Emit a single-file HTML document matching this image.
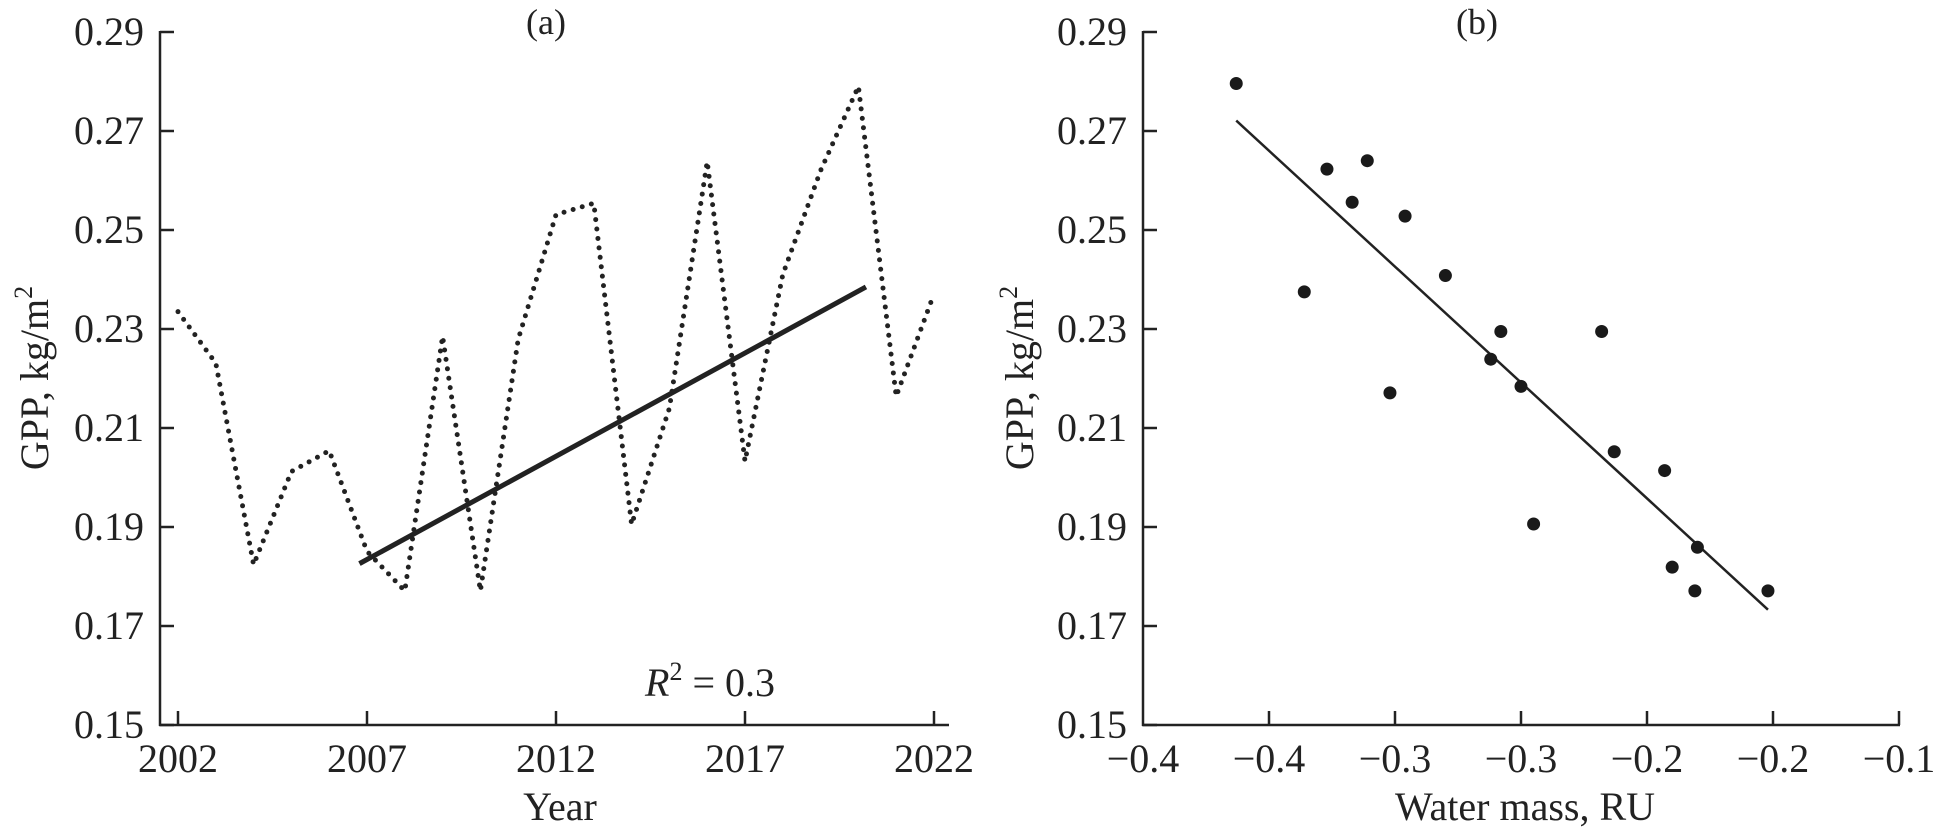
<!DOCTYPE html>
<html><head><meta charset="utf-8"><style>
body{margin:0;background:#fff;}
svg{display:block;font-family:"Liberation Serif",serif;}
</style></head><body>
<svg id="chart" width="1941" height="831" viewBox="0 0 1941 831" xmlns="http://www.w3.org/2000/svg">
<g id="pa"></g>
<g id="pb"></g>
</svg>
<script>
const years=[2002,2003,2004,2005,2006,2007,2008,2009,2010,2011,2012,2013,2014,2015,2016,2017,2018,2019,2020,2021,2022];
const gppSeries=[0.2335,0.2231,0.1824,0.2012,0.2054,0.1851,0.1771,0.2285,0.1771,0.2279,0.2531,0.2554,0.1905,0.214,0.2638,0.2033,0.241,0.262,0.279,0.2164,0.2371];
const trendYears=[2006.8,2020.2];
const trendValues=[0.1826,0.2385];
const yTicks=[0.15,0.17,0.19,0.21,0.23,0.25,0.27,0.29];
const yTickLabels=["0.15","0.17","0.19","0.21","0.23","0.25","0.27","0.29"];
const xTicksA=[2002,2007,2012,2017,2022];
const waterMass=[-0.413,-0.386,-0.377,-0.367,-0.361,-0.346,-0.352,-0.330,-0.308,-0.312,-0.300,-0.295,-0.268,-0.263,-0.243,-0.240,-0.230,-0.231,-0.202];
const gppScatter=[0.2796,0.2375,0.2623,0.2556,0.2640,0.2528,0.2171,0.2408,0.2295,0.2239,0.2184,0.1906,0.2295,0.2052,0.2014,0.1819,0.1859,0.1771,0.1771];
const regX=[-0.413,-0.202];
const regY=[0.2721,0.1733];
const xTicksB=[-0.45,-0.40,-0.35,-0.30,-0.25,-0.20,-0.15];
const xTickLabelsB=["\u22120.4","\u22120.4","\u22120.3","\u22120.3","\u22120.2","\u22120.2","\u22120.1"];

const NS="http://www.w3.org/2000/svg";
function mk(parent,tag,attrs,text){const e=document.createElementNS(NS,tag);for(const k in attrs)e.setAttribute(k,attrs[k]);if(text!==undefined)e.textContent=text;parent.appendChild(e);return e;}
const yScale=v=>725-(v-0.15)*4950;
const xA=y=>178+(y-2002)*37.8;
const xB=v=>1143+(v+0.45)*2520;

function yAxis(g,x0,xEnd){
  let e=mk(g,'line',{x1:x0,y1:31,x2:x0,y2:726,stroke:'#222','stroke-width':2.5});
  
  
  e=mk(g,'line',{x1:x0-1,y1:725,x2:xEnd,y2:725,stroke:'#222','stroke-width':2.5});
  
  
  yTicks.forEach((v,i)=>{
    const t=mk(g,'line',{x1:x0,y1:yScale(v),x2:x0+14,y2:yScale(v),stroke:'#222','stroke-width':2.5});
    
    
    const l=mk(g,'text',{x:x0-16,y:yScale(v)+13,'text-anchor':'end','font-size':40,fill:'#222'},yTickLabels[i]);
    
    
  });
}
// Panel A
const pa=document.getElementById('pa');
yAxis(pa,160,949);
xTicksA.forEach(y=>{
  const t=mk(pa,'line',{x1:xA(y),y1:725,x2:xA(y),y2:711,stroke:'#222','stroke-width':2.5});
  
  
  const l=mk(pa,'text',{x:xA(y),y:772,'text-anchor':'middle','font-size':40,fill:'#222'},String(y));
  
  
});
let p=mk(pa,'polyline',{points:years.map((y,i)=>xA(y)+','+yScale(gppSeries[i])).join(' '),fill:'none',stroke:'#222','stroke-width':5,'stroke-linecap':'round','stroke-dasharray':'0 9.5'});


p=mk(pa,'line',{x1:xA(trendYears[0]),y1:yScale(trendValues[0]),x2:xA(trendYears[1]),y2:yScale(trendValues[1]),stroke:'#222','stroke-width':5});


p=mk(pa,'text',{x:546,y:34,'text-anchor':'middle','font-size':36,fill:'#222'},'(a)');


p=mk(pa,'text',{x:645,y:696,'font-size':40,fill:'#222'});


p.innerHTML='<tspan font-style="italic">R</tspan><tspan dy="-16" font-size="26">2</tspan><tspan dy="16"> = 0.3</tspan>';
p=mk(pa,'text',{x:560,y:820,'text-anchor':'middle','font-size':40,fill:'#222'},'Year');


p=mk(pa,'text',{transform:'translate(48,378) rotate(-90)','text-anchor':'middle','font-size':40,fill:'#222'});


p.innerHTML='GPP, kg/m<tspan dy="-16" font-size="26">2</tspan>';

// Panel B
const pb=document.getElementById('pb');
yAxis(pb,1143,1900);
xTicksB.forEach((v,i)=>{
  if(i>0){const t=mk(pb,'line',{x1:xB(v),y1:725,x2:xB(v),y2:711,stroke:'#222','stroke-width':2.5});
  
  }
  const l=mk(pb,'text',{x:xB(v),y:772,'text-anchor':'middle','font-size':40,fill:'#222'},xTickLabelsB[i]);
  
  
});
p=mk(pb,'line',{x1:xB(regX[0]),y1:yScale(regY[0]),x2:xB(regX[1]),y2:yScale(regY[1]),stroke:'#222','stroke-width':2.5});


waterMass.forEach((v,i)=>{
  const c=mk(pb,'circle',{cx:xB(v),cy:yScale(gppScatter[i]),r:6.5,fill:'#1a1a1a'});
  
  
});
p=mk(pb,'text',{x:1477,y:34,'text-anchor':'middle','font-size':36,fill:'#222'},'(b)');


p=mk(pb,'text',{x:1525,y:820,'text-anchor':'middle','font-size':40,fill:'#222'},'Water mass, RU');


p=mk(pb,'text',{transform:'translate(1033,378) rotate(-90)','text-anchor':'middle','font-size':40,fill:'#222'});


p.innerHTML='GPP, kg/m<tspan dy="-16" font-size="26">2</tspan>';
</script>
</body></html>
